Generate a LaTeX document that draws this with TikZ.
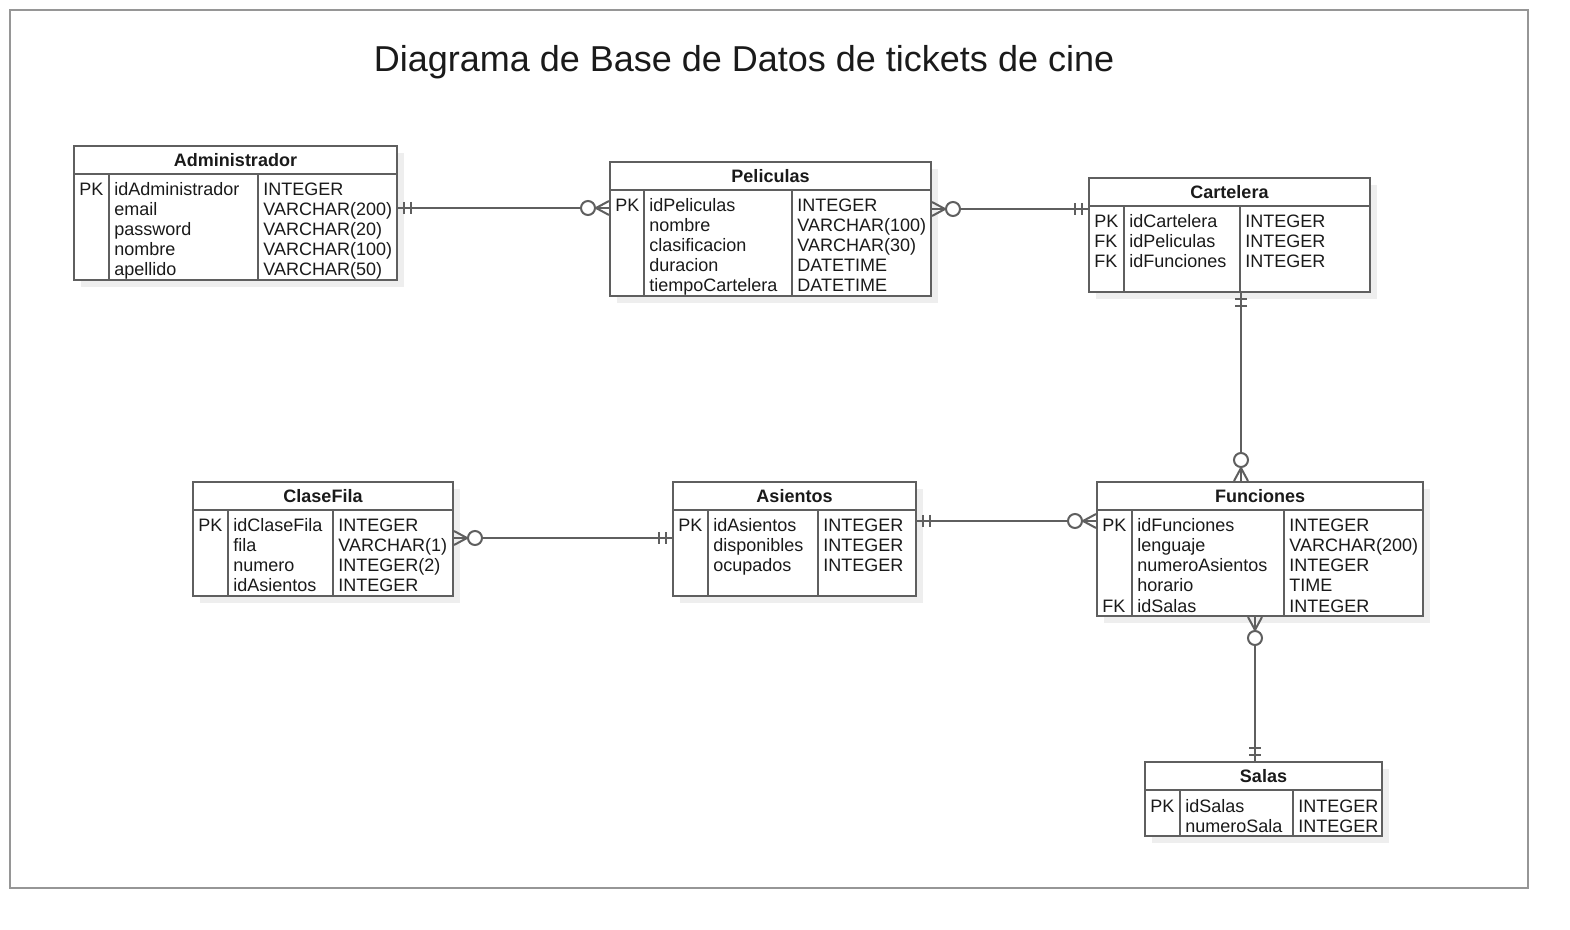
\documentclass[tikz,border=0pt]{standalone}
\usepackage{fontspec}
\setmainfont{Liberation Sans}
\usepackage{xcolor}
\usepackage{tikz}
\usetikzlibrary{positioning,fit,shadows,decorations.markings,calc}
\definecolor{lineagris}{RGB}{95,95,95}
\definecolor{marcogris}{RGB}{150,150,150}
\definecolor{sombragris}{RGB}{238,238,238}
\definecolor{textonegro}{RGB}{26,26,26}
\tikzset{
    every node/.append style={text=textonegro, font=\fontsize{9}{10}\selectfont},
    tabla/.style={draw=lineagris, line width=1pt, fill=white, inner sep=0pt,
        drop shadow={shadow xshift=3.5pt, shadow yshift=-3.5pt, fill=sombragris, opacity=1}},
    cabeza/.style={draw=lineagris, line width=1pt, inner sep=0pt},
    nombretabla/.style={font=\bfseries\fontsize{9}{10}\selectfont, inner sep=0pt},
    campo/.style={anchor=base west, inner sep=0pt},
    columna/.style={draw=lineagris, line width=1pt},
    relacion/.style={draw=lineagris, line width=1pt},
    unomuchos/.style={postaction={decorate, decoration={markings,
        mark=at position 3pt with {\draw[relacion] (0,-6) -- (0,6);},
        mark=at position 6.5pt with {\draw[relacion] (0,-6) -- (0,6);},
        mark=at position -10.5pt with {\draw[relacion, fill=white] (0,0) circle (7);},
        mark=at position -6.5pt with {\draw[relacion] (0,0) -- (13,7) (0,0) -- (13,-7);}}}}
}

\begin{document}
\begin{tikzpicture}[x=0.5pt, y=-0.5pt]
    \fill[white] (0,0) rectangle (1570,930);
    \useasboundingbox (0,0) rectangle (1570,930);
    \draw[marcogris, line width=0.75pt] (10,10) rectangle (1528,888);
    \node[font=\fontsize{18}{21}\selectfont, anchor=base, inner sep=0pt] at (744,72) (titulo) {Diagrama de Base de Datos de tickets de cine};

    % Administrador
    \node[tabla, fit={(74,146) (397,280)}] (adm) {};
    \node[cabeza, fit={(74,146) (397,174)}] (adm-h) {};
    \node[nombretabla] at (adm-h.center) (adm-t) {Administrador};
    \draw[columna] (109,174) -- (109,280);
    \draw[columna] (258,174) -- (258,280);
    \foreach \k/\c/\t [count=\i] in {PK/idAdministrador/INTEGER, /email/VARCHAR(200), /password/VARCHAR(20), /nombre/VARCHAR(100), /apellido/VARCHAR(50)} {
        \node[campo] at (79,{176+20*\i}) (adm-k\i) {\k};
        \node[campo] at (114,{176+20*\i}) (adm-c\i) {\c};
        \node[campo] at (263,{176+20*\i}) (adm-t\i) {\t};
    }

    % Peliculas
    \node[tabla, fit={(610,162) (931,296)}] (pel) {};
    \node[cabeza, fit={(610,162) (931,190)}] (pel-h) {};
    \node[nombretabla] at (pel-h.center) (pel-t) {Peliculas};
    \draw[columna] (644,190) -- (644,296);
    \draw[columna] (792,190) -- (792,296);
    \foreach \k/\c/\t [count=\i] in {PK/idPeliculas/INTEGER, /nombre/VARCHAR(100), /clasificacion/VARCHAR(30), /duracion/DATETIME, /tiempoCartelera/DATETIME} {
        \node[campo] at (615,{192+20*\i}) (pel-k\i) {\k};
        \node[campo] at (649,{192+20*\i}) (pel-c\i) {\c};
        \node[campo] at (797,{192+20*\i}) (pel-t\i) {\t};
    }

    % Cartelera
    \node[tabla, fit={(1089,178) (1370,292)}] (car) {};
    \node[cabeza, fit={(1089,178) (1370,206)}] (car-h) {};
    \node[nombretabla] at (car-h.center) (car-t) {Cartelera};
    \draw[columna] (1124,206) -- (1124,292);
    \draw[columna] (1240,206) -- (1240,292);
    \foreach \k/\c/\t [count=\i] in {PK/idCartelera/INTEGER, FK/idPeliculas/INTEGER, FK/idFunciones/INTEGER} {
        \node[campo] at (1094,{208+20*\i}) (car-k\i) {\k};
        \node[campo] at (1129,{208+20*\i}) (car-c\i) {\c};
        \node[campo] at (1245,{208+20*\i}) (car-t\i) {\t};
    }

    % ClaseFila
    \node[tabla, fit={(193,482) (453,596)}] (cla) {};
    \node[cabeza, fit={(193,482) (453,510)}] (cla-h) {};
    \node[nombretabla] at (cla-h.center) (cla-t) {ClaseFila};
    \draw[columna] (228,510) -- (228,596);
    \draw[columna] (333,510) -- (333,596);
    \foreach \k/\c/\t [count=\i] in {PK/idClaseFila/INTEGER, /fila/VARCHAR(1), /numero/INTEGER(2), /idAsientos/INTEGER} {
        \node[campo] at (198,{512+20*\i}) (cla-k\i) {\k};
        \node[campo] at (233,{512+20*\i}) (cla-c\i) {\c};
        \node[campo] at (338,{512+20*\i}) (cla-t\i) {\t};
    }

    % Asientos
    \node[tabla, fit={(673,482) (916,596)}] (asi) {};
    \node[cabeza, fit={(673,482) (916,510)}] (asi-h) {};
    \node[nombretabla] at (asi-h.center) (asi-t) {Asientos};
    \draw[columna] (708,510) -- (708,596);
    \draw[columna] (818,510) -- (818,596);
    \foreach \k/\c/\t [count=\i] in {PK/idAsientos/INTEGER, /disponibles/INTEGER, /ocupados/INTEGER} {
        \node[campo] at (678,{512+20*\i}) (asi-k\i) {\k};
        \node[campo] at (713,{512+20*\i}) (asi-c\i) {\c};
        \node[campo] at (823,{512+20*\i}) (asi-t\i) {\t};
    }

    % Funciones
    \node[tabla, fit={(1097,482) (1423,616)}] (fun) {};
    \node[cabeza, fit={(1097,482) (1423,510)}] (fun-h) {};
    \node[nombretabla] at (fun-h.center) (fun-t) {Funciones};
    \draw[columna] (1132,510) -- (1132,616);
    \draw[columna] (1284,510) -- (1284,616);
    \foreach \k/\c/\t [count=\i] in {PK/idFunciones/INTEGER, /lenguaje/VARCHAR(200), /numeroAsientos/INTEGER, /horario/TIME, FK/idSalas/INTEGER} {
        \node[campo] at (1102,{512+20*\i}) (fun-k\i) {\k};
        \node[campo] at (1137,{512+20*\i}) (fun-c\i) {\c};
        \node[campo] at (1289,{512+20*\i}) (fun-t\i) {\t};
    }

    % Salas
    \node[tabla, fit={(1145,762) (1382,836)}] (sal) {};
    \node[cabeza, fit={(1145,762) (1382,790)}] (sal-h) {};
    \node[nombretabla] at (sal-h.center) (sal-t) {Salas};
    \draw[columna] (1180,790) -- (1180,836);
    \draw[columna] (1293,790) -- (1293,836);
    \foreach \k/\c/\t [count=\i] in {PK/idSalas/INTEGER, /numeroSala/INTEGER} {
        \node[campo] at (1150,{792+20*\i}) (sal-k\i) {\k};
        \node[campo] at (1185,{792+20*\i}) (sal-c\i) {\c};
        \node[campo] at (1298,{792+20*\i}) (sal-t\i) {\t};
    }

    % relaciones
    \draw[relacion, unomuchos] (adm.east |- 0,208) -- (pel.west |- 0,208);
    \draw[relacion, unomuchos] (car.west |- 0,209) -- (pel.east |- 0,209);
    \draw[relacion, unomuchos] (car.south -| 1241,0) -- (fun.north -| 1241,0);
    \draw[relacion, unomuchos] (asi.west |- 0,538) -- (cla.east |- 0,538);
    \draw[relacion, unomuchos] (asi.east |- 0,521) -- (fun.west |- 0,521);
    \draw[relacion, unomuchos] (sal.north -| 1255,0) -- (fun.south -| 1255,0);
\end{tikzpicture}
\end{document}
